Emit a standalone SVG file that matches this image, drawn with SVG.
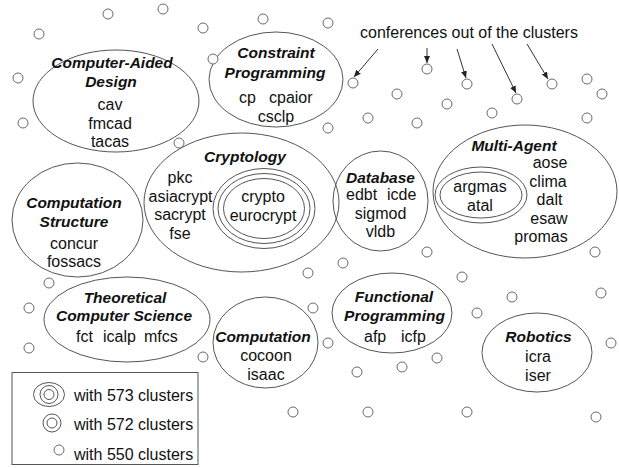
<svg xmlns="http://www.w3.org/2000/svg" width="619" height="468" viewBox="0 0 619 468">
<style>
.bg{fill:#fff}
.cl{fill:none;stroke:#555;stroke-width:1}
.dot{fill:#fff;stroke:#6a6a6a;stroke-width:1}
.t{font-family:"Liberation Sans",Arial,sans-serif;font-size:16px;fill:#111;text-anchor:middle}
.h{font-family:"Liberation Sans",Arial,sans-serif;font-size:15.5px;font-weight:bold;font-style:italic;fill:#111;text-anchor:middle}
.s{text-anchor:start}
.ar{stroke:#333;stroke-width:1;fill:none;marker-end:url(#ah)}
</style>
<defs>
<marker id="ah" markerWidth="8" markerHeight="8" refX="7" refY="4" orient="auto" markerUnits="userSpaceOnUse">
<path d="M0,1 L7,4 L0,7 Z" fill="#222"/>
</marker>
</defs>
<rect class="bg" x="0" y="0" width="619" height="468"/>

<g id="outliers">
<circle class="dot" cx="108" cy="14" r="5"/>
<circle class="dot" cx="163" cy="9" r="5"/>
<circle class="dot" cx="39" cy="34" r="5"/>
<circle class="dot" cx="203" cy="28" r="5"/>
<circle class="dot" cx="263" cy="19" r="5"/>
<circle class="dot" cx="328" cy="23" r="5"/>
<circle class="dot" cx="18" cy="78" r="5"/>
<circle class="dot" cx="23" cy="123" r="5"/>
<circle class="dot" cx="353" cy="83" r="5"/>
<circle class="dot" cx="427" cy="69" r="5"/>
<circle class="dot" cx="467" cy="84" r="5"/>
<circle class="dot" cx="517" cy="99" r="5"/>
<circle class="dot" cx="552" cy="84" r="5"/>
<circle class="dot" cx="587" cy="79" r="5"/>
<circle class="dot" cx="602" cy="94" r="5"/>
<circle class="dot" cx="397" cy="94" r="5"/>
<circle class="dot" cx="447" cy="104" r="5"/>
<circle class="dot" cx="492" cy="113" r="5"/>
<circle class="dot" cx="368" cy="118" r="5"/>
<circle class="dot" cx="417" cy="123" r="5"/>
<circle class="dot" cx="587" cy="118" r="5"/>
<circle class="dot" cx="328" cy="128" r="5"/>
<circle class="dot" cx="427" cy="252" r="5"/>
<circle class="dot" cx="343" cy="263" r="5"/>
<circle class="dot" cx="308" cy="273" r="5"/>
<circle class="dot" cx="595" cy="252" r="5"/>
<circle class="dot" cx="462" cy="277" r="5"/>
<circle class="dot" cx="313" cy="308" r="5"/>
<circle class="dot" cx="328" cy="343" r="5"/>
<circle class="dot" cx="357" cy="372" r="5"/>
<circle class="dot" cx="402" cy="367" r="5"/>
<circle class="dot" cx="293" cy="412" r="5"/>
<circle class="dot" cx="368" cy="412" r="5"/>
<circle class="dot" cx="203" cy="357" r="5"/>
<circle class="dot" cx="49" cy="283" r="5"/>
<circle class="dot" cx="29" cy="308" r="5"/>
<circle class="dot" cx="29" cy="348" r="5"/>
<circle class="dot" cx="437" cy="358" r="5"/>
<circle class="dot" cx="512" cy="297" r="5"/>
<circle class="dot" cx="477" cy="313" r="5"/>
<circle class="dot" cx="601" cy="293" r="5"/>
<circle class="dot" cx="611" cy="343" r="5"/>
<circle class="dot" cx="467" cy="412" r="5"/>
<circle class="dot" cx="596" cy="417" r="5"/>
</g>

<g id="cad">
<ellipse class="cl" cx="116" cy="101" rx="83" ry="51"/>
<text class="h" x="112" y="68">Computer-Aided</text>
<text class="h" x="111" y="87">Design</text>
<text class="t" x="110" y="110">cav</text>
<text class="t" x="110" y="129">fmcad</text>
<text class="t" x="110" y="147">tacas</text>
</g>

<g id="constraint">
<ellipse class="cl" cx="276" cy="79.5" rx="67" ry="47.5"/>
<circle class="dot" cx="213" cy="59" r="5"/>
<text class="h" x="276" y="58">Constraint</text>
<text class="h" x="275" y="78">Programming</text>
<text class="t s" x="239" y="103">cp</text>
<text class="t s" x="269" y="103">cpaior</text>
<text class="t" x="276" y="122">csclp</text>
</g>

<g id="cryptology">
<ellipse class="cl" cx="241.5" cy="202.5" rx="97.5" ry="69.5"/>
<circle class="dot" cx="179" cy="143" r="5"/>
<text class="h" x="245" y="162">Cryptology</text>
<text class="t" x="180" y="183">pkc</text>
<text class="t" x="180.5" y="201.5">asiacrypt</text>
<text class="t" x="180" y="220">sacrypt</text>
<text class="t" x="180" y="238.5">fse</text>
<ellipse class="cl" cx="264" cy="208.5" rx="51" ry="40"/>
<ellipse class="cl" cx="264" cy="208.5" rx="46" ry="35"/>
<ellipse class="cl" cx="264" cy="208.5" rx="40.5" ry="30"/>
<text class="t" x="263" y="202">crypto</text>
<text class="t" x="263" y="221">eurocrypt</text>
</g>

<g id="compstruct">
<ellipse class="cl" cx="77.5" cy="220" rx="65.5" ry="57"/>
<text class="h" x="74" y="208">Computation</text>
<text class="h" x="74" y="227">Structure</text>
<text class="t" x="74" y="249">concur</text>
<text class="t" x="74" y="267">fossacs</text>
</g>

<g id="database">
<ellipse class="cl" cx="380.5" cy="201" rx="47.5" ry="50"/>
<text class="h" x="380.5" y="183">Database</text>
<text class="t s" x="346" y="200">edbt</text>
<text class="t s" x="387" y="200">icde</text>
<text class="t" x="380.5" y="218.5">sigmod</text>
<text class="t" x="380.5" y="237">vldb</text>
</g>

<g id="multiagent">
<ellipse class="cl" cx="525" cy="191.5" rx="92" ry="66.5"/>
<text class="h" x="514" y="151">Multi-Agent</text>
<text class="t" x="550" y="168">aose</text>
<text class="t" x="548" y="186.5">clima</text>
<text class="t" x="549.5" y="205">dalt</text>
<text class="t" x="549" y="223.5">esaw</text>
<text class="t" x="541" y="242">promas</text>
<ellipse class="cl" cx="481" cy="195" rx="46" ry="28"/>
<ellipse class="cl" cx="481" cy="195" rx="41" ry="23"/>
<text class="t" x="480" y="192">argmas</text>
<text class="t" x="480" y="211">atal</text>
</g>

<g id="tcs">
<ellipse class="cl" cx="127" cy="319.5" rx="83" ry="42.5"/>
<text class="h" x="125" y="303">Theoretical</text>
<text class="h" x="124" y="321">Computer Science</text>
<text class="t s" x="76" y="341.5">fct</text>
<text class="t s" x="103" y="341.5">icalp</text>
<text class="t s" x="144" y="341.5">mfcs</text>
</g>

<g id="computation">
<ellipse class="cl" cx="265.5" cy="342.5" rx="52.5" ry="45.5"/>
<text class="h" x="263" y="342">Computation</text>
<text class="t" x="266" y="361">cocoon</text>
<text class="t" x="266" y="380">isaac</text>
</g>

<g id="functional">
<ellipse class="cl" cx="392" cy="313" rx="60" ry="40"/>
<text class="h" x="394" y="302">Functional</text>
<text class="h" x="394.5" y="321">Programming</text>
<text class="t s" x="364" y="342">afp</text>
<text class="t s" x="401" y="342">icfp</text>
</g>

<g id="robotics">
<ellipse class="cl" cx="537" cy="352.5" rx="55" ry="39.5"/>
<text class="h" x="538.5" y="342">Robotics</text>
<text class="t" x="538" y="362">icra</text>
<text class="t" x="538" y="381">iser</text>
</g>

<g id="connectors">
<text class="t s" x="360" y="38">conferences out of the clusters</text>
<line class="ar" x1="378" y1="49" x2="354" y2="77"/>
<line class="ar" x1="427" y1="48" x2="427" y2="63"/>
<line class="ar" x1="457" y1="49" x2="466" y2="78"/>
<line class="ar" x1="492" y1="44" x2="516" y2="93"/>
<line class="ar" x1="527" y1="44" x2="548" y2="79"/>
</g>

<g id="legend">
<rect x="12" y="372.5" width="186" height="92" fill="none" stroke="#555" stroke-width="1"/>
<ellipse class="cl" cx="49" cy="394.5" rx="15.5" ry="12"/>
<circle class="cl" cx="49" cy="394.5" r="9"/>
<circle class="cl" cx="49" cy="394.5" r="5"/>
<circle class="cl" cx="52" cy="423" r="9"/>
<circle class="cl" cx="52" cy="423" r="5"/>
<circle class="dot" cx="59" cy="450" r="5"/>
<text class="t s" x="74" y="400.5">with 573 clusters</text>
<text class="t s" x="74" y="429.5">with 572 clusters</text>
<text class="t s" x="74" y="459.5">with 550 clusters</text>
</g>
</svg>
